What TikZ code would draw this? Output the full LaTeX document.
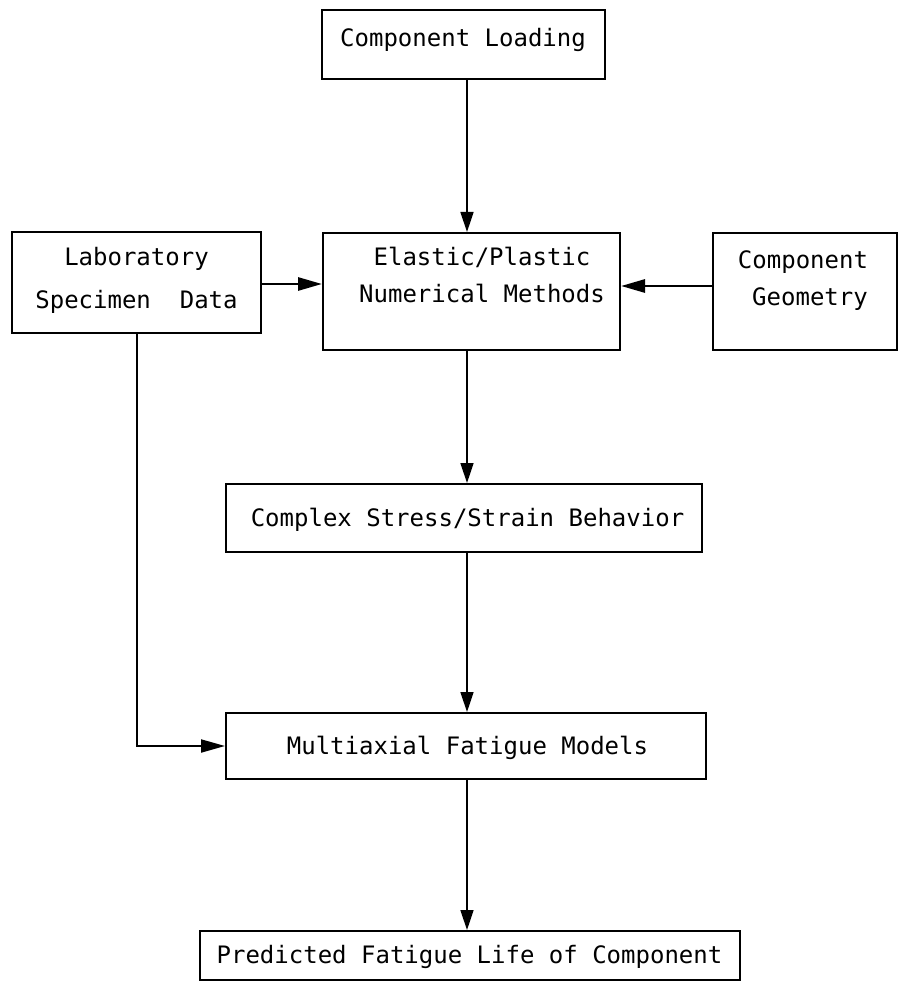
\documentclass[tikz,border=0pt]{standalone}
\usepackage{fontspec}
\setmonofont{DejaVu Sans Mono}
\usetikzlibrary{arrows.meta}
\begin{document}
\begin{tikzpicture}[x=0.5pt,y=-0.5pt,
  box/.style={draw,line width=1pt,inner sep=0pt},
  txt/.style={anchor=base,inner sep=0pt,font=\ttfamily\fontsize{12pt}{14pt}\selectfont},
  vline/.style={line width=0.75pt,-{Triangle[length=10pt,width=6.5pt]}},
  hline/.style={line width=1.4pt,-{Triangle[length=12pt,width=6.5pt]}}]
\useasboundingbox (0,0) rectangle (898,984);
% boxes (pixel coordinates: centre, size in pt = px/2)
\node[box,minimum width=141.5pt,minimum height=34.5pt] (load) at (463.5,44.5) {};
\node[box,minimum width=124.5pt,minimum height=50.5pt] (lab) at (136.5,282.5) {};
\node[box,minimum width=148.5pt,minimum height=58.5pt] (elast) at (471.5,291.5) {};
\node[box,minimum width=92pt,minimum height=58.5pt] (geom) at (805,291.5) {};
\node[box,minimum width=238pt,minimum height=34pt] (complex) at (464,518) {};
\node[box,minimum width=240pt,minimum height=33pt] (multi) at (466,746) {};
\node[box,minimum width=270pt,minimum height=24.5pt] (pred) at (470,955.5) {};
% texts
\node[txt] (loadt) at (463,47) {Component Loading};
\node[txt] (labt1) at (136.5,265) {Laboratory};
\node[txt] (labt2) at (136.5,308) {Specimen\ \ Data};
\node[txt] (elt1) at (482,265) {Elastic/Plastic};
\node[txt] (elt2) at (482,302) {Numerical Methods};
\node[txt] (geot1) at (803,268) {Component};
\node[txt] (geot2) at (810,305) {Geometry};
\node[txt] (cxt) at (467.5,526) {Complex Stress/Strain Behavior};
\node[txt] (mut) at (467.5,754) {Multiaxial Fatigue Models};
\node[txt] (prt) at (469.5,963) {Predicted Fatigue Life of Component};
% connectors
\coordinate (ax) at (467,0);
\coordinate (hya) at (0,284);
\coordinate (hyb) at (0,286);
\draw[vline] (load.south -| ax) -- (elast.north -| ax);
\draw[vline] (elast.south -| ax) -- (complex.north -| ax);
\draw[vline] (complex.south -| ax) -- (multi.north -| ax);
\draw[vline] (multi.south -| ax) -- (pred.north -| ax);
\draw[hline] (lab.east |- hya) -- (elast.west |- hya);
\draw[hline] (geom.west |- hyb) -- (elast.east |- hyb);
\draw[line width=1pt,-{Triangle[length=12pt,width=6.5pt]}] (lab.south) |- (multi.west);
\end{tikzpicture}
\end{document}
